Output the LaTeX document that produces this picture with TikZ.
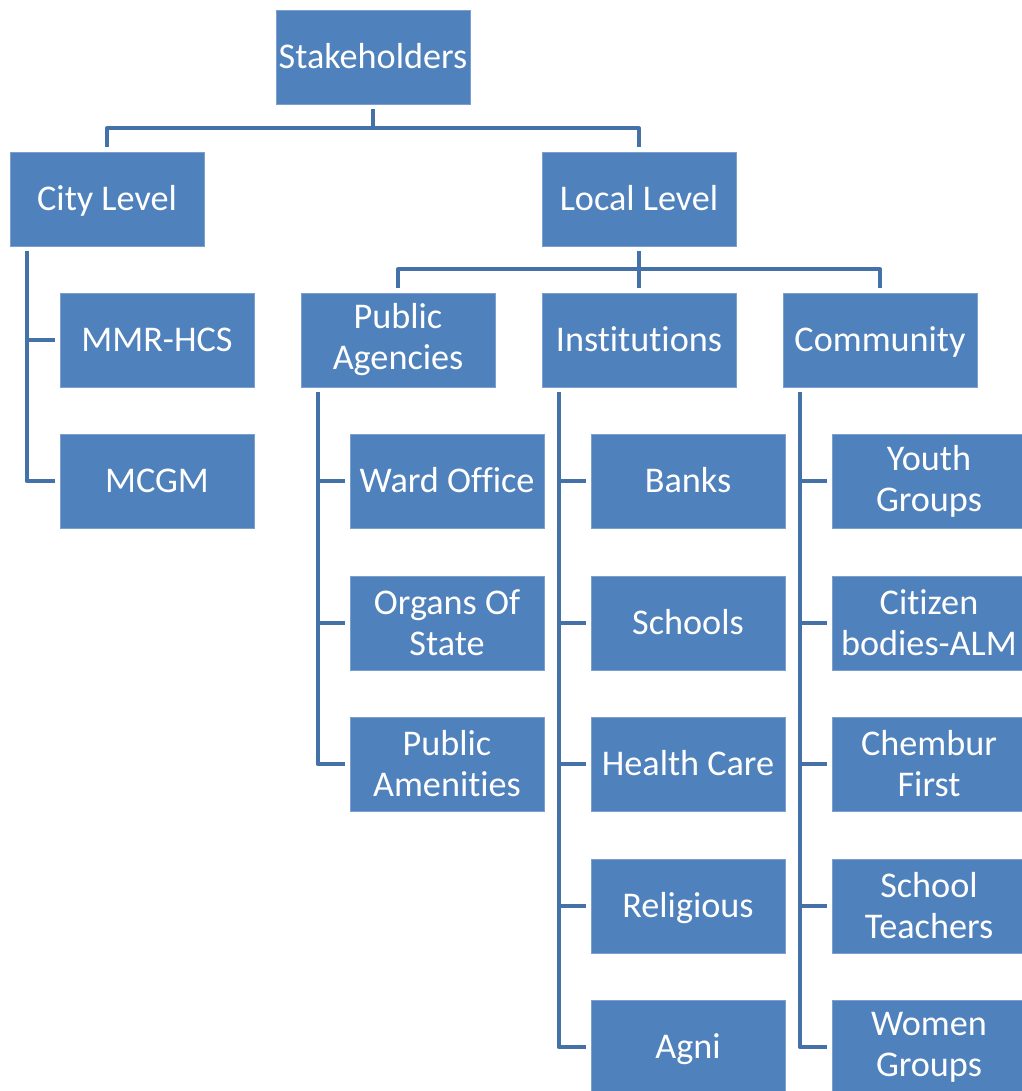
\documentclass[tikz,border=0pt]{standalone}
\usepackage{fontspec}
\setmainfont{Carlito}[Ligatures=NoCommon]
\definecolor{boxblue}{RGB}{79,129,189}
\definecolor{lineblue}{RGB}{68,114,168}
\tikzset{
	box/.style={fill=boxblue, draw=boxblue!75!white, line width=0.5pt, text=white,
		minimum width=3.88cm, minimum height=1.88cm, inner sep=0pt, align=center,
		font=\fontsize{20.6}{23.3}\selectfont},
	oneline/.style={text height=13.3pt, text depth=0pt},
	conn/.style={lineblue, line width=0.08cm, line join=round, shorten <=0.1cm, shorten >=0.1cm},
}
\begin{document}
\begin{tikzpicture}[x=0.02cm,y=-0.02cm]
			\useasboundingbox (0,0) rectangle (1021,1091);
			% Top
			\node[box,oneline] (stake) at (373,57) {Stakeholders};
			\node[box,oneline] (city) at (107,199) {City Level};
			\node[box,oneline] (local) at (639,199) {Local Level};
			
			% City level
			\node[box,oneline] (mmr) at (157,340) {MMR-HCS};
			\node[box,oneline] (mcgm) at (157,481) {MCGM};
			
			% Local level
			\node[box] (pub) at (398,340) {Public\\Agencies};
			\node[box,oneline] (inst) at (639,340) {Institutions};
			\node[box,oneline] (comm) at (880,340) {Community};
			
			\node[box,oneline] (ward) at (447,481) {Ward Office};
			\node[box] (organs) at (447,623) {Organs Of\\State};
			\node[box] (amen) at (447,764) {Public\\Amenities};
			
			\node[box,oneline] (banks) at (688,481) {Banks};
			\node[box,oneline] (schools) at (688,623) {Schools};
			\node[box,oneline] (health) at (688,764) {Health Care};
			\node[box,oneline] (relig) at (688,906) {Religious};
			\node[box,oneline] (agni) at (688,1047) {Agni};
			
			\node[box] (youth) at (929,481) {Youth\\Groups};
			\node[box] (citizen) at (929,623) {Citizen\\bodies-ALM};
			\node[box] (chembur) at (929,764) {Chembur\\First};
			\node[box] (teachers) at (929,906) {School\\Teachers};
			\node[box] (women) at (929,1047) {Women\\Groups};
			
			% Connectors
			\draw[conn] (stake.south) -- ++(0,24) -| (city.north);
			\draw[conn] (stake.south) -- ++(0,24) -| (local.north);
			\draw[conn] (local.south) -- ++(0,23) -| (pub.north);
			\draw[conn] (local.south) -- ++(0,23) -| (inst.north);
			\draw[conn] (local.south) -- ++(0,23) -| (comm.north);
			
			\foreach \boss/\kid in {city/mmr, city/mcgm,
				pub/ward, pub/organs, pub/amen,
				inst/banks, inst/schools, inst/health, inst/relig, inst/agni,
				comm/youth, comm/citizen, comm/chembur, comm/teachers, comm/women}
				\draw[conn] ([xshift=0.34cm]\boss.south west) |- (\kid.west);
		\end{tikzpicture}
\end{document}
